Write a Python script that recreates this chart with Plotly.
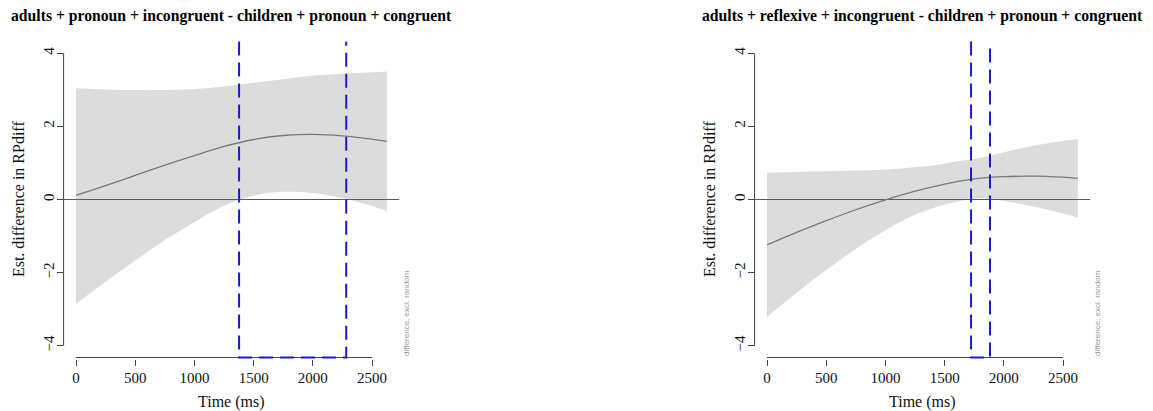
import plotly.graph_objects as go

# ---- data -------------------------------------------------------------
# Panel 1: adults + pronoun + incongruent - children + pronoun + congruent
time_a = [0, 250, 500, 750, 1000, 1250, 1500, 1750, 2000, 2250, 2500, 2625]
fit_a = [0.11, 0.38, 0.66, 0.94, 1.20, 1.45, 1.64, 1.75, 1.78, 1.74, 1.65, 1.59]
upper_a = [3.04, 3.01, 2.99, 2.99, 3.02, 3.09, 3.19, 3.29, 3.38, 3.44, 3.48, 3.50]
lower_a = [-2.85, -2.25, -1.67, -1.11, -0.62, -0.17, 0.11, 0.21, 0.18, 0.04, -0.18, -0.32]
sig_a = [1377, 2282]

# Panel 2: adults + reflexive + incongruent - children + pronoun + congruent
time_b = [0, 250, 500, 750, 1000, 1250, 1500, 1625, 1750, 1875, 2000, 2250, 2500, 2625]
fit_b = [-1.24, -0.90, -0.58, -0.28, -0.01, 0.23, 0.42, 0.50, 0.565, 0.605, 0.625, 0.64, 0.61, 0.58]
upper_b = [0.73, 0.75, 0.77, 0.79, 0.82, 0.88, 0.98, 1.05, 1.11, 1.19, 1.29, 1.47, 1.60, 1.65]
lower_b = [-3.21, -2.55, -1.93, -1.35, -0.84, -0.42, -0.14, -0.05, 0.02, 0.02, -0.04, -0.19, -0.38, -0.49]
sig_b = [1723, 1883]

titles = [
    "adults + pronoun + incongruent - children + pronoun + congruent",
    "adults + reflexive + incongruent - children + pronoun + congruent",
]
x_ticks = [0, 500, 1000, 1500, 2000, 2500]
y_ticks = [-4, -2, 0, 2, 4]
x_title = "Time (ms)"
y_title = "Est. difference in RPdiff"
side_note = "difference, excl. random"

# ---- layout geometry --------------------------------------------------
W, H = 1153, 411
XLIM = [-105, 2731]
YLIM = [-4.32, 4.32]          # plot region (window box runs to these edges)
PAD = 0.04                    # keeps the 2px window lines from being clipped
plot_top, plot_bottom = 41.5 - 1.5, 357.5 + 1.5
x_domains = [(63.6, 399.4), (754.6, 1090.4)]

SERIF = "Liberation Serif"
SANS = "Liberation Sans"
BAND = "#dcdcdc"
FIT = "#7a7a7a"
AXIS = "#444444"
BLUE = "#1a1ac8"

fig = go.Figure()
annotations = []
shapes = []

panels = [
    (time_a, fit_a, upper_a, lower_a, sig_a),
    (time_b, fit_b, upper_b, lower_b, sig_b),
]

for i, (t, fit, up, lo, sig) in enumerate(panels):
    xa = "x" if i == 0 else "x2"
    ya = "y" if i == 0 else "y2"

    # confidence band
    fig.add_trace(go.Scatter(x=t, y=up, xaxis=xa, yaxis=ya, mode="lines",
                             line=dict(width=0, shape="spline", smoothing=1.0),
                             hoverinfo="skip", showlegend=False))
    fig.add_trace(go.Scatter(x=t, y=lo, xaxis=xa, yaxis=ya, mode="lines",
                             line=dict(width=0, shape="spline", smoothing=1.0),
                             fill="tonexty", fillcolor=BAND,
                             hoverinfo="skip", showlegend=False))
    # zero reference line across the plot region
    fig.add_trace(go.Scatter(x=XLIM, y=[0, 0], xaxis=xa, yaxis=ya, mode="lines",
                             line=dict(color="#5a5a5a", width=1),
                             hoverinfo="skip", showlegend=False))
    # estimated difference
    fig.add_trace(go.Scatter(x=t, y=fit, xaxis=xa, yaxis=ya, mode="lines",
                             line=dict(color=FIT, width=1.3, shape="spline", smoothing=1.0),
                             showlegend=False))
    # significant window
    fig.add_trace(go.Scatter(x=[sig[0], sig[0], sig[1], sig[1]],
                             y=[YLIM[1], YLIM[0], YLIM[0], YLIM[1]],
                             xaxis=xa, yaxis=ya, mode="lines",
                             line=dict(color=BLUE, width=2, dash="14px,7px"),
                             hoverinfo="skip", showlegend=False))

    # detached axis lines (only across the tick range)
    shapes.append(dict(type="line", xref=xa, yref=ya,
                       x0=x_ticks[0], x1=x_ticks[-1], y0=YLIM[0], y1=YLIM[0],
                       line=dict(color=AXIS, width=1), layer="below"))
    shapes.append(dict(type="line", xref=f"{xa} domain", yref=ya,
                       x0=0, x1=0, y0=y_ticks[0], y1=y_ticks[-1],
                       line=dict(color=AXIS, width=1), layer="below"))

    left_px, right_px = x_domains[i]
    cx = (left_px + right_px) / 2
    cy = (plot_top + plot_bottom) / 2
    annotations.append(dict(text="<b>" + titles[i] + "</b>", xref="paper", yref="paper",
                            x=cx / W, y=1 - 16 / H, xanchor="center", yanchor="middle",
                            showarrow=False, font=dict(family=SERIF, size=15.7, color="#000")))
    annotations.append(dict(text=x_title, xref="paper", yref="paper",
                            x=cx / W, y=1 - 402 / H, xanchor="center", yanchor="middle",
                            showarrow=False, font=dict(family=SERIF, size=16, color="#111")))
    annotations.append(dict(text=y_title, xref="paper", yref="paper",
                            x=(left_px - 45) / W, y=1 - cy / H, xanchor="center", yanchor="middle",
                            textangle=-90, showarrow=False,
                            font=dict(family=SERIF, size=16, color="#111")))
    annotations.append(dict(text=side_note, xref="paper", yref="paper",
                            x=(right_px + 7) / W, y=1 - 357.5 / H,
                            xanchor="center", yanchor="bottom", textangle=-90,
                            showarrow=False, font=dict(family=SANS, size=8, color="#999999")))

axis_common_x = dict(range=XLIM, tickvals=x_ticks, ticks="outside", ticklen=6,
                     tickcolor=AXIS, tickwidth=1, showline=False, showgrid=False,
                     zeroline=False, ticklabelstandoff=-1,
                     tickfont=dict(family=SERIF, size=15, color="#111"))
axis_common_y = dict(range=[YLIM[0] - PAD, YLIM[1] + PAD], tickvals=y_ticks, ticks="outside",
                     ticklen=6, tickcolor=AXIS, tickwidth=1, showline=False, showgrid=False,
                     zeroline=False, tickangle=-90, ticklabelstandoff=-3,
                     tickfont=dict(family=SERIF, size=15, color="#111"))

y_dom = [1 - plot_bottom / H, 1 - plot_top / H]

fig.update_layout(
    width=W, height=H,
    margin=dict(l=0, r=0, t=0, b=0),
    paper_bgcolor="white", plot_bgcolor="white",
    showlegend=False,
    xaxis=dict(domain=[x_domains[0][0] / W, x_domains[0][1] / W], anchor="y", **axis_common_x),
    yaxis=dict(domain=y_dom, anchor="x", **axis_common_y),
    xaxis2=dict(domain=[x_domains[1][0] / W, x_domains[1][1] / W], anchor="y2", **axis_common_x),
    yaxis2=dict(domain=y_dom, anchor="x2", **axis_common_y),
    annotations=annotations,
    shapes=shapes,
)

fig.write_html("out.html")
